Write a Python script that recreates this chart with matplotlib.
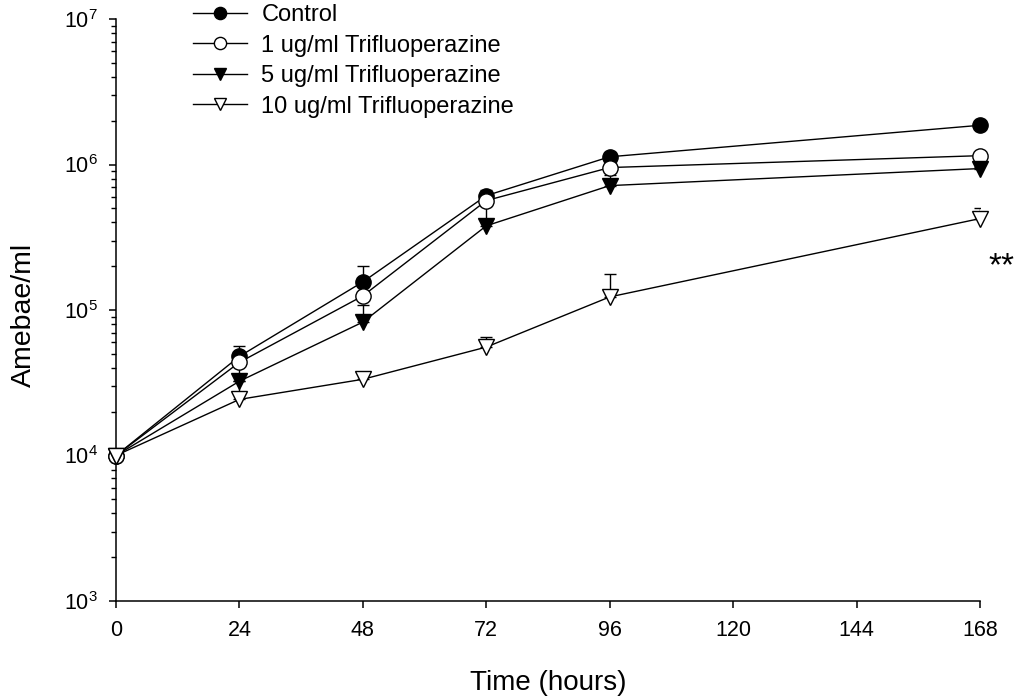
import numpy as np
import matplotlib
matplotlib.use("Agg")
import matplotlib.pyplot as plt
from matplotlib.ticker import LogLocator, LogFormatterMathtext, NullFormatter

plt.rcParams['font.family'] = ['Liberation Sans', 'DejaVu Sans']
plt.rcParams['mathtext.default'] = 'regular'

# Sampling times (hours)
hours = [0, 24, 48, 72, 96, 168]
xtick_hours = [0, 24, 48, 72, 96, 120, 144, 168]

# Mean amebae counts per ml
control = [10000, 48000, 156000, 611000, 1130000, 1860000]
tfp_1 = [10000, 43700, 125000, 565000, 953000, 1150000]
tfp_5 = [10000, 32400, 82600, 379000, 716000, 938000]
tfp_10 = [10000, 24300, 33400, 55600, 123000, 425000]

# Upper error (SD) for each mean
control_err = [0, 8500, 45000, 60000, 80000, 0]
tfp_1_err = [0, 6000, 20000, 40000, 60000, 40000]
tfp_5_err = [0, 10000, 25000, 140000, 130000, 30000]
tfp_10_err = [0, 8000, 3400, 9500, 54000, 80000]

labels = ['Control', '1 ug/ml Trifluoperazine', '5 ug/ml Trifluoperazine',
          '10 ug/ml Trifluoperazine']

fig = plt.figure(figsize=(10.2, 7.0), dpi=100)
ax = fig.add_axes([116 / 1020, 1 - 601 / 700, 864 / 1020, 582 / 700])

series = [
    (control, control_err, 'o', 'black'),
    (tfp_1, tfp_1_err, 'o', 'white'),
    (tfp_5, tfp_5_err, 'v', 'black'),
    (tfp_10, tfp_10_err, 'v', 'white'),
]

for (vals, err, mk, face), lab in zip(series, labels):
    yerr = [np.zeros(len(err)), err]
    ax.errorbar(hours, vals, yerr=yerr, fmt='none', ecolor='black',
                elinewidth=1.0, capsize=4.5, capthick=1.0, zorder=2)
    ax.plot(hours, vals, '-', color='black', lw=1.0, marker=mk,
            markersize=11, markerfacecolor=face, markeredgecolor='black',
            markeredgewidth=1.0, label=lab, zorder=3, clip_on=False)

ax.set_yscale('log')
ax.set_ylim(1e3, 1e7)
ax.set_xlim(0, 168)
ax.set_xticks(xtick_hours)
ax.yaxis.set_major_locator(LogLocator(base=10, numticks=10))
ax.yaxis.set_major_formatter(LogFormatterMathtext())
ax.yaxis.set_minor_locator(LogLocator(base=10, subs=np.arange(2, 10), numticks=20))
ax.yaxis.set_minor_formatter(NullFormatter())

for s in ['top', 'right']:
    ax.spines[s].set_visible(False)
for s in ['left', 'bottom']:
    ax.spines[s].set_linewidth(1.1)

ax.tick_params(axis='both', which='major', direction='out', length=5,
               width=1.1, labelsize=15.5)
ax.tick_params(axis='x', which='major', pad=9)
ax.tick_params(axis='y', which='major', pad=8)
ax.tick_params(axis='y', which='minor', direction='out', length=3.6, width=1.0)

ax.set_xlabel('Time (hours)', fontsize=20, va='center')
ax.xaxis.set_label_coords(0.5, (601 - 683) / 582)
ax.set_ylabel('Amebae/ml', fontsize=20.5, va='center')
ax.yaxis.set_label_coords((24 - 116) / 864, (601 - 315) / 582)

fig.text(1001 / 1020, 1 - 267 / 700, '**', fontsize=24,
         ha='center', va='center')

leg = ax.legend(loc='upper left', bbox_to_anchor=(193 / 1020, 0.994),
                bbox_transform=fig.transFigure, frameon=False,
                fontsize=17, handlelength=2.3, handletextpad=0.6,
                labelspacing=0.36, borderaxespad=0, borderpad=0,
                markerscale=0.8)

fig.savefig('out.png', dpi=100)
